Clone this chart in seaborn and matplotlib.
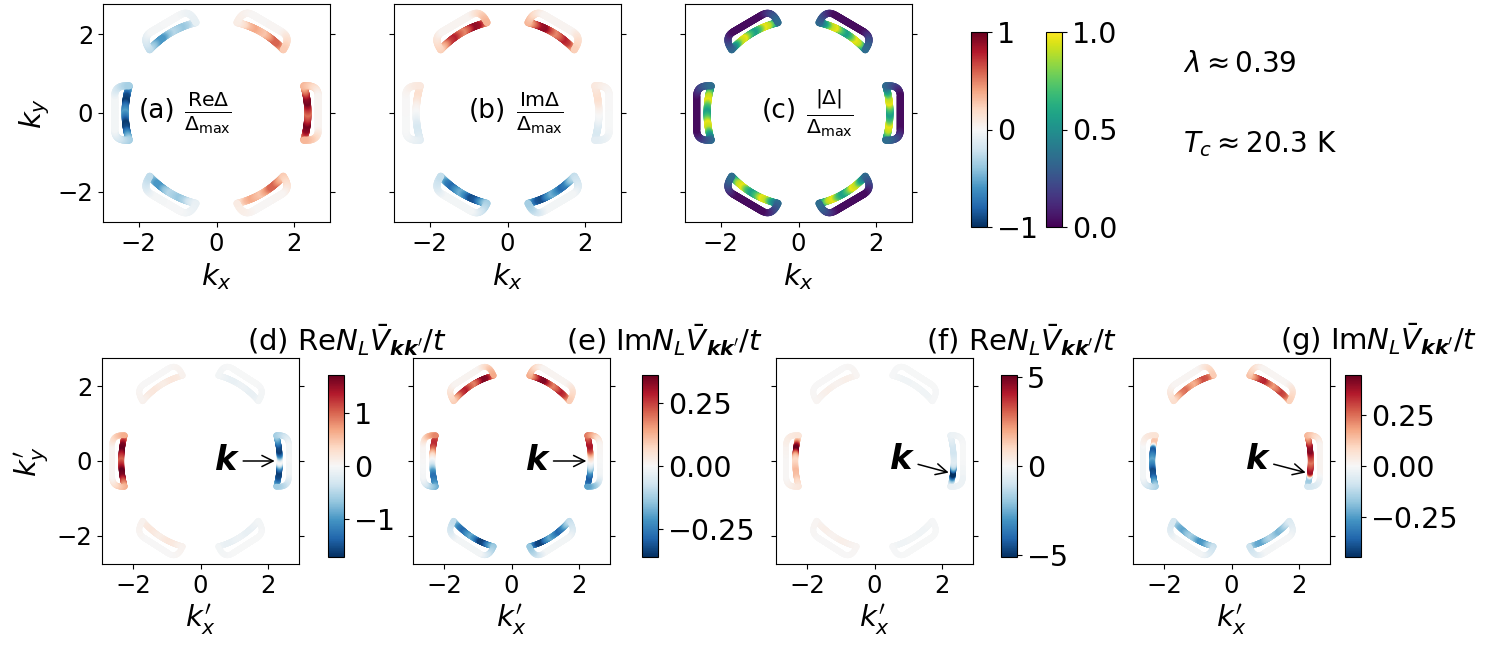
import numpy as np
import pandas as pd
import matplotlib
matplotlib.use("Agg")
import matplotlib.pyplot as plt
import matplotlib.colors as mcolors
import seaborn as sns

W, H = 1495, 648

# ---- Fermi surface pockets (six, one per flat hexagon side) ----
POCKET_ANGLES = [0, 60, 120, 180, 240, 300]   # degrees
R_INNER = 2.35      # radius of the inner arc
ARC_HALF = 17.0     # half angular span of the inner arc (deg)
A_OUTER = 2.62      # distance of the flat outer edge
Y_OUTER = 0.42      # half length of the flat outer edge
Y_CAP = 0.72        # control point of the rounded ends

# |Delta|/Delta_max read along the inner arc (alpha = -17 ... +17 deg)
GAP_INNER = [0.35, 0.6, 0.9, 0.97, 0.72, 0.55, 0.72, 0.97, 0.9, 0.6, 0.35]
GAP_OUTER = 0.03

# ---- pairing interaction for fixed k, one value per pocket ----
# (d) Re N_L V / t
RE_V1_BASE = [-1.7, -0.14, 0.2, 1.8, 0.2, -0.14]
RE_V1_BUMP = [1.7, 0, 0, 0, 0, 0]
# (e) Im N_L V / t
IM_V1_BASE = [0.0, 0.32, 0.32, 0.0, -0.32, -0.32]
IM_V1_SLOPE = [0.55, 0.07, -0.07, -0.5, -0.07, 0.07]
# (f) Re N_L V / t
RE_V2_BASE = [-1.0, -0.2, 0.3, 1.7, 0.3, -0.2]
RE_V2_BUMP = [-4.6, 0, 0, 3.7, 0, 0]
# (g) Im N_L V / t
IM_V2_BASE = [0.1, 0.34, 0.28, -0.12, -0.26, -0.23]
IM_V2_SLOPE = [0.0, 0.04, -0.05, 0.0, -0.04, 0.04]
IM_V2_STEP = [0.33, 0, 0, -0.3, 0, 0]

K1_ALPHA = 0.0      # position of k in panels (d), (e)
K2_ALPHA = -9.0     # position of k in panels (f), (g)

V_LIMITS = [1.73, 0.36, 5.1, 0.45]
V_TICKS = [[-1, 0, 1], [-0.25, 0, 0.25], [-5, 0, 5], [-0.25, 0, 0.25]]
V_TITLES = [r"(d) Re$N_L\bar{V}_{\mathbfit{kk}^\prime}/t$",
            r"(e) Im$N_L\bar{V}_{\mathbfit{kk}^\prime}/t$",
            r"(f) Re$N_L\bar{V}_{\mathbfit{kk}^\prime}/t$",
            r"(g) Im$N_L\bar{V}_{\mathbfit{kk}^\prime}/t$"]


def pocket_loop(n_arc=160, n_cap=30, n_out=90):
    a = np.radians(np.linspace(-ARC_HALF, ARC_HALF, n_arc))
    xa, ya = R_INNER * np.cos(a), R_INNER * np.sin(a)
    ga = np.interp(np.linspace(-1, 1, n_arc),
                   np.linspace(-1, 1, len(GAP_INNER)), GAP_INNER)
    u = np.linspace(0, 1, n_cap)[:, None]
    p0 = np.array([xa[-1], ya[-1]])
    p1 = np.array([A_OUTER, Y_CAP])
    p2 = np.array([A_OUTER, Y_OUTER])
    cap = (1 - u) ** 2 * p0 + 2 * (1 - u) * u * p1 + u ** 2 * p2
    gc = (1 - u[:, 0]) * GAP_INNER[-1] + u[:, 0] * GAP_OUTER
    yo = np.linspace(Y_OUTER, -Y_OUTER, n_out)
    xo = np.full(n_out, A_OUTER)
    go = np.full(n_out, GAP_OUTER)
    cap2 = cap[::-1] * np.array([1, -1])
    x = np.concatenate([xa, cap[:, 0], xo, cap2[:, 0]])
    y = np.concatenate([ya, cap[:, 1], yo, cap2[:, 1]])
    g = np.concatenate([ga, gc, go, gc[::-1]])
    return x, y, g


rows = []
x0, y0, g0 = pocket_loop()
alpha0 = np.degrees(np.arctan2(y0, x0))
for i, th in enumerate(POCKET_ANGLES):
    t = np.radians(th)
    rows.append(pd.DataFrame({
        "pocket": i,
        "kx": x0 * np.cos(t) - y0 * np.sin(t),
        "ky": x0 * np.sin(t) + y0 * np.cos(t),
        "alpha": alpha0,
        "phi": np.radians(th + alpha0),
        "gap": g0,
    }))
fs = pd.concat(rows, ignore_index=True)

p = fs["pocket"].to_numpy()
al = fs["alpha"].to_numpy()
tt = al / ARC_HALF
fs["re"] = fs["gap"] * np.cos(fs["phi"])
fs["im"] = fs["gap"] * np.sin(fs["phi"])
fs["v1"] = fs["gap"] * (np.take(RE_V1_BASE, p)
                        + np.take(RE_V1_BUMP, p) * np.exp(-((al - K1_ALPHA) / 3.0) ** 2))
fs["v2"] = fs["gap"] * (np.take(IM_V1_BASE, p) + np.take(IM_V1_SLOPE, p) * tt)
fs["v3"] = fs["gap"] * (np.take(RE_V2_BASE, p)
                        + np.take(RE_V2_BUMP, p) * np.exp(-((al - K2_ALPHA - 1) / 4.0) ** 2))
fs["v4"] = fs["gap"] * (np.take(IM_V2_BASE, p) + np.take(IM_V2_SLOPE, p) * tt
                        + np.take(IM_V2_STEP, p) * np.tanh((al - K2_ALPHA) / 1.5))


def px_axes(fig, left, right, top, bottom):
    return fig.add_axes([left / W, 1 - bottom / H, (right - left) / W, (bottom - top) / H])


def draw_fs(ax, col, cmap, vmin, vmax, size):
    sns.scatterplot(data=fs, x="kx", y="ky", hue=col, palette=cmap,
                    hue_norm=(vmin, vmax), s=size, linewidth=0,
                    legend=False, ax=ax)
    ax.set_xlim(-2.92, 2.92)
    ax.set_ylim(-2.76, 2.76)
    ax.set_xticks([-2, 0, 2])
    ax.set_yticks([-2, 0, 2])
    ax.tick_params(labelsize=17.5, right=True)
    ax.set_xlabel("")
    ax.set_ylabel("")


def add_cbar(fig, cax, cmap, vmin, vmax, ticks):
    sm = plt.cm.ScalarMappable(norm=mcolors.Normalize(vmin, vmax), cmap=cmap)
    cb = fig.colorbar(sm, cax=cax, ticks=ticks)
    cb.ax.tick_params(labelsize=20.5)
    return cb


fig = plt.figure(figsize=(W / 100, H / 100), dpi=100)

# ---- top row ----
top_cols = ["re", "im", "gap"]
top_cmaps = ["RdBu_r", "RdBu_r", "viridis"]
top_lims = [(-1, 1), (-1, 1), (0, 1)]
top_tags = ["(a)", "(b)", "(c)"]
top_fracs = [r"$\frac{\mathrm{Re}\Delta}{\Delta_\mathrm{max}}$",
             r"$\frac{\mathrm{Im}\Delta}{\Delta_\mathrm{max}}$",
             r"$\frac{|\Delta|}{\Delta_\mathrm{max}}$"]
tag_x = [-1.54, -0.53, -0.49]
frac_x = [-0.22, 0.83, 0.82]
for j, left in enumerate([103, 394, 685]):
    ax = px_axes(fig, left, left + 227, 4, 222)
    draw_fs(ax, top_cols[j], top_cmaps[j], *top_lims[j], 26)
    ax.text(tag_x[j], 0.04, top_tags[j], ha="center", va="center", fontsize=19)
    ax.text(frac_x[j], 0.0, top_fracs[j], ha="center", va="center", fontsize=21)
    ax.set_xlabel("$k_x$", fontsize=21)
    if j == 0:
        ax.set_ylabel("$k_y$", fontsize=21)
    else:
        ax.set_yticklabels([])

cax = px_axes(fig, 971, 987, 32, 227)
add_cbar(fig, cax, "RdBu_r", -1, 1, [-1, 0, 1])
cax = px_axes(fig, 1046, 1062, 32, 227)
add_cbar(fig, cax, "viridis", 0, 1, [0, 0.5, 1.0])

fig.text(1183 / W, 1 - 64 / H, r"$\lambda \approx 0.39$", fontsize=20, va="center")
fig.text(1183 / W, 1 - 144 / H, r"$T_c \approx 20.3$ K", fontsize=20, va="center")

# ---- bottom row ----
bot_left = [102, 413, 776, 1133]
cb_left = [328, 642, 1001, 1345]
title_x = [347, 664, 1022, 1379]
k_tip = [(2.2, 0.0), (2.22, 0.0), (2.2, -0.31), (2.2, -0.31)]
k_text = [(0.77, 0.0), (0.75, 0.0), (0.8, 0.03), (0.76, 0.03)]
for j in range(4):
    ax = px_axes(fig, bot_left[j], bot_left[j] + 197, 358, 564)
    vm = V_LIMITS[j]
    draw_fs(ax, f"v{j + 1}", "RdBu_r", -vm, vm, 17)
    ax.set_xlabel(r"$k^\prime_x$", fontsize=21)
    if j == 0:
        ax.set_ylabel(r"$k^\prime_y$", fontsize=21)
    else:
        ax.set_yticklabels([])
    ax.annotate("k", xy=k_tip[j], xytext=k_text[j], fontsize=24,
                fontweight="bold", fontstyle="italic", ha="center", va="center",
                arrowprops=dict(arrowstyle="->", color="black", lw=1.1,
                                mutation_scale=20, shrinkB=0))
    cax = px_axes(fig, cb_left[j], cb_left[j] + 16, 375, 557)
    add_cbar(fig, cax, "RdBu_r", -vm, vm, V_TICKS[j])
    fig.text(title_x[j] / W, 1 - 340 / H, V_TITLES[j], fontsize=21,
             ha="center", va="center")

fig.savefig("out.png", dpi=100)
